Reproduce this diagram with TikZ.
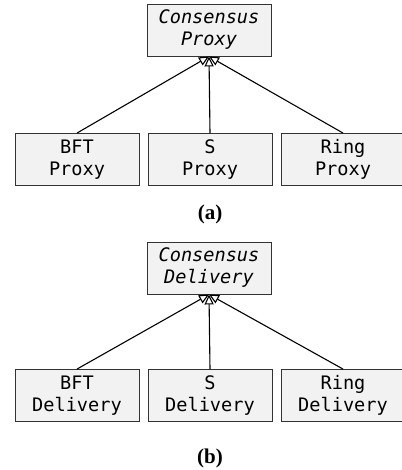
\documentclass[tikz,border=0pt]{standalone}
\usepackage{fontspec}
\setmonofont{DejaVu Sans Mono}
\newfontfamily\capfont{Liberation Serif}
\usetikzlibrary{arrows.meta}
\definecolor{boxfill}{HTML}{F2F2F2}
\definecolor{boxline}{HTML}{333333}
\tikzset{
  cls/.style={draw=boxline, line width=0.9pt, fill=boxfill, minimum width=124pt,
    minimum height=52pt, inner sep=0pt, align=center,
    font=\fontsize{18.6}{22}\selectfont\ttfamily},
  absname/.style={cls, font=\fontsize{18.6}{22}\selectfont\ttfamily\itshape},
  inherit/.style={-{Triangle[open, length=10pt, width=9pt, fill=white]}, line width=1.1pt, black},
  subcap/.style={font=\fontsize{21}{24}\selectfont\capfont\bfseries}
}
\begin{document}
\begin{tikzpicture}[x=1pt, y=-1pt]
  \useasboundingbox (0,0) rectangle (401,470);
  % (a) proxies
  \node[absname] (cp) at (209,30) {Consensus\\Proxy};
  \node[cls] (bftp) at (77,159.5) {BFT\\Proxy};
  \node[cls] (sp) at (210,159.5) {S\\Proxy};
  \node[cls] (rp) at (343,159.5) {Ring\\Proxy};
  \draw[inherit] (bftp.north) -- (cp.south);
  \draw[inherit] (sp.north) -- (cp.south);
  \draw[inherit] (rp.north) -- (cp.south);
  \node[subcap] (capa) at (210,214) {(a)};
  % (b) deliveries
  \node[absname] (cd) at (209,268) {Consensus\\Delivery};
  \node[cls] (bftd) at (77,395.5) {BFT\\Delivery};
  \node[cls] (sd) at (210,395.5) {S\\Delivery};
  \node[cls] (rd) at (343,395.5) {Ring\\Delivery};
  \draw[inherit] (bftd.north) -- (cd.south);
  \draw[inherit] (sd.north) -- (cd.south);
  \draw[inherit] (rd.north) -- (cd.south);
  \node[subcap] (capb) at (210,458) {(b)};
\end{tikzpicture}
\end{document}
